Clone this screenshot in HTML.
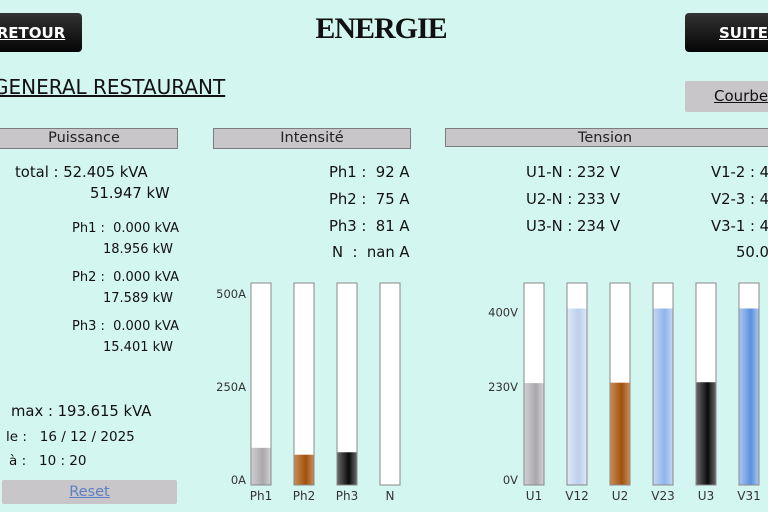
<!DOCTYPE html>
<html><head><meta charset="utf-8">
<style>
body{margin:0;width:768px;height:512px;overflow:hidden;background:#d4f6f0;font-family:"DejaVu Sans","Liberation Sans",sans-serif;color:#111;position:relative}
.a{position:absolute;white-space:nowrap}
.btn{position:absolute;background:linear-gradient(#333,#050505);border-radius:4px;color:#fff;font-weight:bold;font-size:15px;text-decoration:underline;display:flex;align-items:center;justify-content:center}
.hdr{position:absolute;top:128px;height:19px;background:#c8c6c9;border:1px solid #7d7d7d;font-size:14.5px;text-align:center;line-height:19px;color:#222}
.t{font-size:14.8px}
.pp{font-size:13px;line-height:21px}
</style></head><body>
<div class="btn" style="left:-20px;top:13px;width:102px;height:39px">RETOUR</div>
<div class="a" style="left:0;width:762px;text-align:center;top:12px;font-family:'Liberation Serif',serif;font-weight:bold;font-size:30px;letter-spacing:-1px">ENERGIE</div>
<div class="btn" style="left:685px;top:13px;width:110px;height:39px;justify-content:flex-start;padding-left:34px;box-sizing:border-box">SUITE</div>
<div class="a" style="left:-7px;top:75px;font-size:20px;text-decoration:underline">GENERAL RESTAURANT</div>
<div class="a" style="left:685px;top:81px;width:100px;height:31px;background:#c9c6c9;border-radius:2px;font-size:15px;line-height:31px;padding-left:29px;box-sizing:border-box;text-decoration:underline">Courbe</div>

<div class="hdr" style="left:-10px;width:186px">Puissance</div>
<div class="hdr" style="left:213px;width:196px">Intensité</div>
<div class="hdr" style="left:445px;width:340px;padding-right:20px;box-sizing:border-box">Tension</div>

<div class="a t" style="left:15px;top:164px">total : 52.405 kVA</div>
<div class="a t" style="left:90px;top:185px">51.947 kW</div>
<div class="a pp" style="left:72px;top:218px">Ph1 :&nbsp; 0.000 kVA<br><span style="padding-left:31px">18.956 kW</span></div>
<div class="a pp" style="left:72px;top:267px">Ph2 :&nbsp; 0.000 kVA<br><span style="padding-left:31px">17.589 kW</span></div>
<div class="a pp" style="left:72px;top:316px">Ph3 :&nbsp; 0.000 kVA<br><span style="padding-left:31px">15.401 kW</span></div>
<div class="a t" style="left:11px;top:403px">max : 193.615 kVA</div>
<div class="a" style="left:6px;top:429px;font-size:13.5px">le :&nbsp;&nbsp; 16 / 12 / 2025</div>
<div class="a" style="left:9px;top:453px;font-size:13.5px">à :&nbsp;&nbsp; 10 : 20</div>
<div class="a" style="left:2px;top:480px;width:175px;height:24px;background:#c9c6c9;border-radius:2px;text-align:center;line-height:24px;font-size:14.5px;color:#5b7fc2;text-decoration:underline">Reset</div>

<div class="a t" style="left:329px;top:164px">Ph1 :&nbsp; 92 A</div>
<div class="a t" style="left:329px;top:191px">Ph2 :&nbsp; 75 A</div>
<div class="a t" style="left:329px;top:218px">Ph3 :&nbsp; 81 A</div>
<div class="a t" style="left:332px;top:244px">N&nbsp; :&nbsp; nan A</div>

<div class="a t" style="left:526px;top:164px">U1-N : 232 V</div>
<div class="a t" style="left:526px;top:191px">U2-N : 233 V</div>
<div class="a t" style="left:526px;top:218px">U3-N : 234 V</div>
<div class="a t" style="left:711px;top:164px">V1-2 : 402 V</div>
<div class="a t" style="left:711px;top:191px">V2-3 : 402 V</div>
<div class="a t" style="left:711px;top:218px">V3-1 : 402 V</div>
<div class="a t" style="left:736px;top:244px">50.0 Hz</div>

<svg id="chart" class="a" style="left:0;top:0" width="768" height="512"></svg>
<script>
const iCats=["Ph1","Ph2","Ph3","N"];
const iVals=[92,75,81,0];
const iTicks=[0,250,500];
const vCats=["U1","V12","U2","V23","U3","V31"];
const vVals=[232,402,233,402,234,402];
const vTicks=[0,230,400];
const NS="http://www.w3.org/2000/svg";
const svg=document.getElementById('chart');
const colors={Ph1:["#d0ced2","#a9a7aa"],Ph2:["#c98a55","#a0520f"],Ph3:["#666","#0a0a0a"],N:["#fff","#fff"],
U1:["#d0ced2","#a9a7aa"],V12:["#dde6f6","#bccfee"],U2:["#c98a55","#a0520f"],V23:["#c2d6f4","#90b5ea"],U3:["#666","#0a0a0a"],V31:["#a8c6f0","#5b90dc"]};
const defs=document.createElementNS(NS,'defs');svg.appendChild(defs);
Object.keys(colors).forEach(k=>{const g=document.createElementNS(NS,'linearGradient');g.id='g'+k;
[[0,colors[k][0]],[0.6,colors[k][1]],[1,colors[k][0]]].forEach(s=>{const st=document.createElementNS(NS,'stop');st.setAttribute('offset',s[0]);st.setAttribute('stop-color',s[1]);g.appendChild(st);});defs.appendChild(g);});
const top0=283,bot=485;
function el(t,a){const e=document.createElementNS(NS,t);for(const k in a)e.setAttribute(k,a[k]);svg.appendChild(e);return e;}
function gauge(cats,vals,ticks,max,x0,step,unit,tickX,prefix){
 const y=v=>bot-v/max*(bot-top0);
 ticks.forEach(t=>{const ty=Math.max(294,Math.min(y(t)+3,480));
 const tx=el('text',{x:tickX,y:ty+4,'text-anchor':'end','font-size':11.5,fill:'#333'});tx.textContent=t+unit;
 
 });
 cats.forEach((c,i)=>{const x=x0+i*step;
  const bg=el('rect',{x:x,y:top0,width:20,height:bot-top0,fill:'#fff',stroke:'#888','stroke-width':1});
  
  
  const h=bot-y(vals[i]);
  const r=el('rect',{x:x+0.5,y:y(vals[i]),width:19,height:Math.max(h-0.5,0),fill:'url(#g'+c+')'});
  
  
  const lb=el('text',{x:x+10,y:500,'text-anchor':'middle','font-size':12,fill:'#333'});lb.textContent=c;
  
  
 });
}
gauge(iCats,iVals,iTicks,500,251,43,'A',246,'current');
gauge(vCats,vVals,vTicks,460,524,43,'V',518,'voltage');
</script>
</body></html>
